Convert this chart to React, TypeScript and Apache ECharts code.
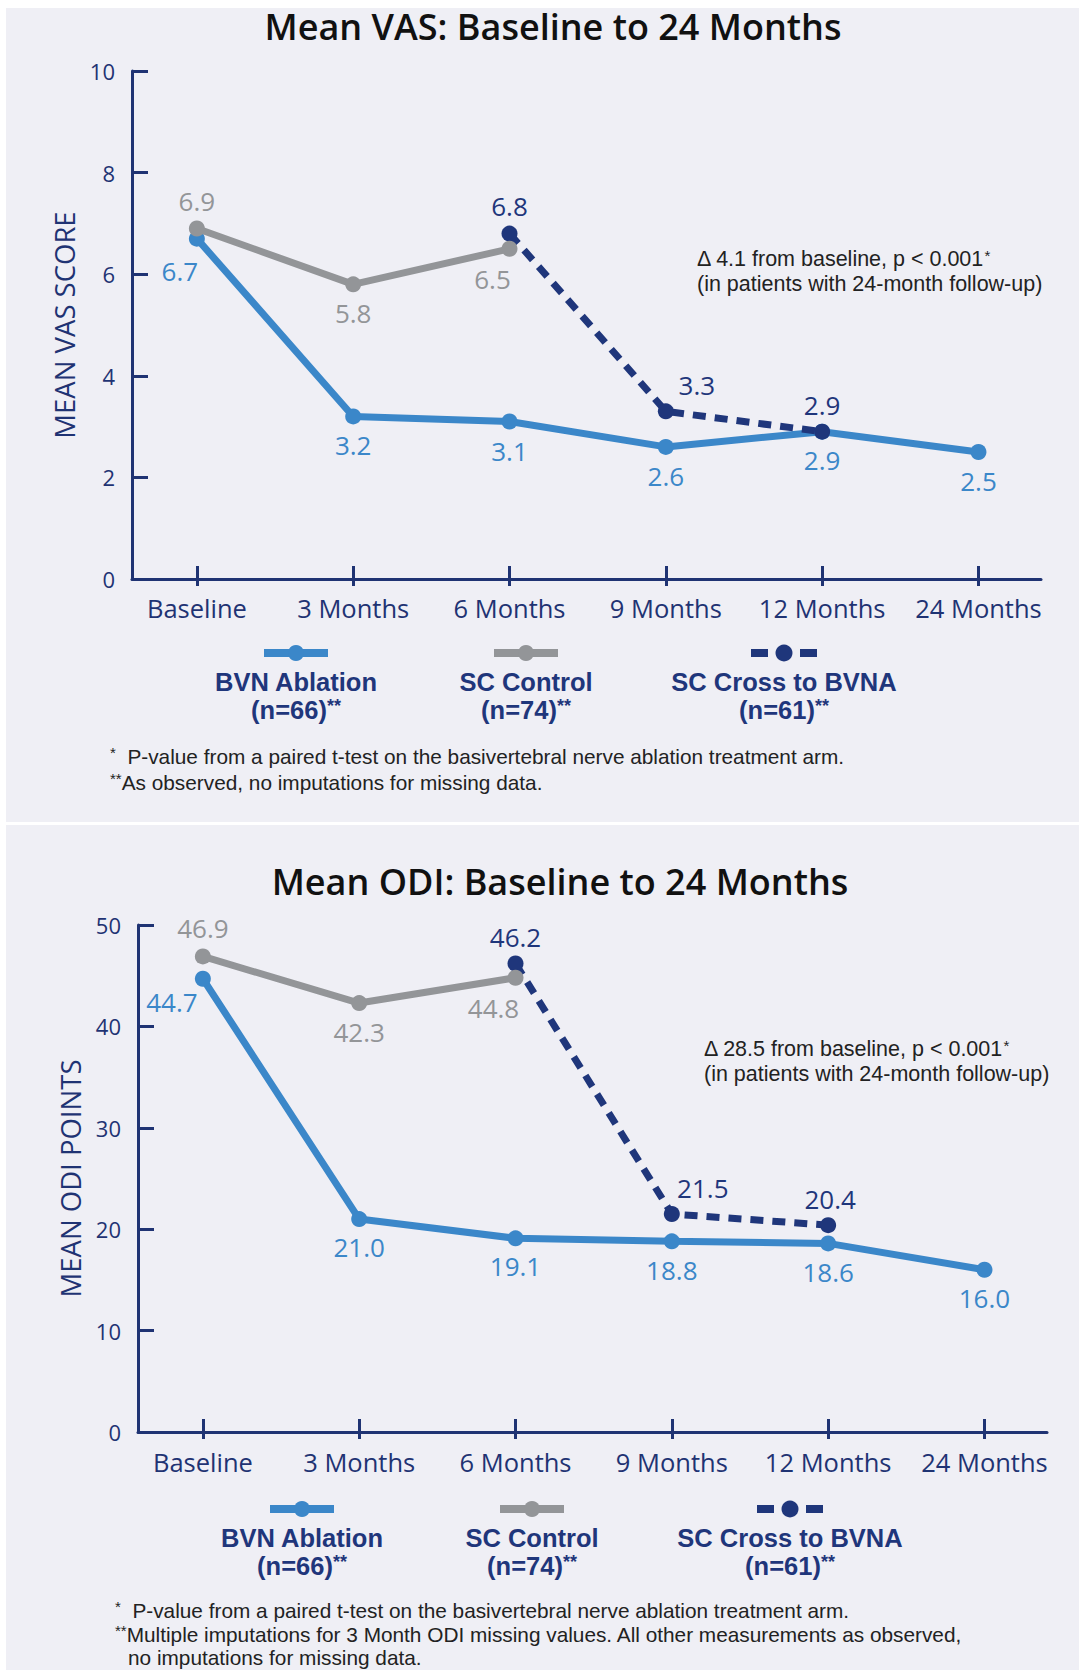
import React, { useEffect, useRef } from 'react';
import * as echarts from 'echarts';

// ---------- data ----------
const categories = ['Baseline', '3 Months', '6 Months', '9 Months', '12 Months', '24 Months'];
const categoryIdx = [0, 1, 2, 3, 4, 5];

const vasTicks = [0, 2, 4, 6, 8, 10];
const vasBvn = [6.7, 3.2, 3.1, 2.6, 2.9, 2.5];
const vasControl = [6.9, 5.8, 6.5, null, null, null];
const vasCross = [null, null, 6.8, 3.3, 2.9, null];

const odiTicks = [0, 10, 20, 30, 40, 50];
const odiBvn = [44.7, 21.0, 19.1, 18.8, 18.6, 16.0];
const odiControl = [46.9, 42.3, 44.8, null, null, null];
const odiCross = [null, null, 46.2, 21.5, 20.4, null];

const legendNames = ['BVN Ablation', 'SC Control', 'SC Cross to BVNA'];
const legendCounts = ['(n=66)', '(n=74)', '(n=61)'];

// ---------- label placement (style) ----------
const vasBvnOff = [[-17, 32], [0, 29], [0, 29], [0, 29], [0, 28], [0, 29]];
const vasCtlOff = [[0, -27], [0, 29], [-17, 30]];
const vasCrossOff = [null, null, [0, -28], [31, -26], [0, -27]];
const odiBvnOff = [[-31, 23], [0, 28], [0, 28], [0, 29], [0, 29], [0, 28]];
const odiCtlOff = [[0, -28], [0, 29], [-22, 30]];
const odiCrossOff = [null, null, [0, -27], [31, -26], [2, -26]];

// ---------- styles ----------
const FONT = '"Open Sans", "Noto Sans", sans-serif';
const LIB = '"Liberation Sans", Arial, sans-serif';
const NAVY = '#1f367b';
const AXIS = '#1f3373';
const BLUE = '#3b87c9';
const GREY = '#939598';
const TEXT = '#222222';
const PANEL = '#efeff5';

const X_MIN = -0.415;
const X_MAX = 5.4;

function buildSeries(name: string, values: (number | null)[], offs: any[], color: string, axis: number, dashed: boolean, z: number) {
  const data: any[] = [];
  values.forEach((v, i) => {
    if (v == null) return;
    data.push({ value: [categoryIdx[i], v], label: { offset: offs[i] || [0, 0] } });
  });
  return {
    name,
    type: 'line',
    xAxisIndex: axis,
    yAxisIndex: axis,
    data,
    symbol: 'circle',
    symbolSize: 16,
    z,
    lineStyle: { color, width: 7, type: dashed ? [13, 9] : 'solid', cap: 'butt' },
    itemStyle: { color },
    label: {
      show: true,
      position: 'inside',
      formatter: (p: any) => Number(p.value[1]).toFixed(1),
      color,
      fontSize: 26,
      fontFamily: FONT,
      align: 'center',
      verticalAlign: 'middle',
    },
    emphasis: { disabled: true },
  };
}

function xAxisMain(grid: number, margin: number) {
  return {
    type: 'value',
    gridIndex: grid,
    min: X_MIN,
    max: X_MAX,
    axisLine: { show: true, onZero: false, lineStyle: { color: AXIS, width: 3 } },
    axisTick: { show: true, inside: true, length: 13, lineStyle: { color: AXIS, width: 3 }, customValues: categoryIdx },
    axisLabel: {
      show: true,
      customValues: categoryIdx,
      formatter: (v: number) => categories[Math.round(v)],
      color: AXIS,
      fontSize: 25.5,
      fontFamily: FONT,
      margin,
    },
    splitLine: { show: false },
  };
}

function xAxisTicksOut(grid: number) {
  return {
    type: 'value',
    gridIndex: grid,
    min: X_MIN,
    max: X_MAX,
    axisLine: { show: false, onZero: false },
    axisTick: { show: true, inside: false, length: 7, lineStyle: { color: AXIS, width: 3 }, customValues: categoryIdx },
    axisLabel: { show: false },
    splitLine: { show: false },
  };
}

function yAxisMain(grid: number, ticks: number[], name: string) {
  return {
    type: 'value',
    gridIndex: grid,
    min: ticks[0],
    max: ticks[ticks.length - 1],
    interval: ticks[1] - ticks[0],
    name,
    nameLocation: 'middle',
    nameRotate: 90,
    nameGap: 54,
    nameTextStyle: { color: AXIS, fontSize: 27.5, fontFamily: FONT },
    axisLine: { show: true, onZero: false, lineStyle: { color: AXIS, width: 3 } },
    axisTick: { show: true, inside: true, length: 16, lineStyle: { color: AXIS, width: 3 } },
    axisLabel: { color: AXIS, fontSize: 22, fontFamily: FONT, margin: 17 },
    splitLine: { show: false },
  };
}

function yAxisHidden(grid: number) {
  return { type: 'value', gridIndex: grid, min: 0, max: 1, show: false };
}

function legendGraphics(y: number, centers: number[]) {
  const els: any[] = [];
  const colors = [BLUE, GREY, NAVY];
  centers.forEach((cx, i) => {
    if (i < 2) {
      els.push({ type: 'rect', shape: { x: cx - 32, y: y - 4, width: 64, height: 8 }, style: { fill: colors[i] } });
      els.push({ type: 'circle', shape: { cx, cy: y, r: 8 }, style: { fill: colors[i] } });
    } else {
      els.push({ type: 'rect', shape: { x: cx - 33, y: y - 4, width: 17, height: 8 }, style: { fill: colors[i] } });
      els.push({ type: 'circle', shape: { cx, cy: y, r: 8.5 }, style: { fill: colors[i] } });
      els.push({ type: 'rect', shape: { x: cx + 16, y: y - 4, width: 17, height: 8 }, style: { fill: colors[i] } });
    }
    els.push({
      type: 'text', x: cx, y: y + 43,
      style: {
        text: `{b|${legendNames[i]}}\n{a|${legendCounts[i]}}{s|**}`,
        align: 'center', verticalAlign: 'middle',
        rich: {
          b: { fill: NAVY, fontSize: 25.5, fontWeight: 'bold', fontFamily: LIB, lineHeight: 28.5 },
          a: { fill: NAVY, fontSize: 25.5, fontWeight: 'bold', fontFamily: LIB, lineHeight: 28.5 },
          s: { fill: NAVY, fontSize: 18, fontWeight: 'bold', fontFamily: LIB, padding: [0, 0, 9, 0] },
        },
      },
    });
  });
  return els;
}

function annotation(x: number, y: number, delta: string) {
  return {
    type: 'text', x, y: y + 12.5,
    style: {
      text: `{a|Δ ${delta} from baseline, p < 0.001}{s|*}\n{a|(in patients with 24-month follow-up)}`,
      align: 'left', verticalAlign: 'middle',
      rich: {
        a: { fill: TEXT, fontSize: 21.5, fontFamily: LIB, lineHeight: 25 },
        s: { fill: TEXT, fontSize: 15, fontFamily: LIB, padding: [0, 0, 8, 0] },
      },
    },
  };
}

function footnote(x: number, y: number, text: string, lh: number) {
  return {
    type: 'text', x, y,
    style: {
      text,
      align: 'left', verticalAlign: 'middle',
      rich: {
        a: { fill: TEXT, fontSize: 20.8, fontFamily: LIB, lineHeight: lh },
        s: { fill: TEXT, fontSize: 15, fontFamily: LIB, padding: [0, 0, 8, 0] },
        p: { width: 13, lineHeight: lh },
      },
    },
  };
}

export default function App() {
  const ref = useRef<HTMLDivElement>(null);
  useEffect(() => {
    if (!ref.current) return;
    const chart = echarts.init(ref.current, null, { renderer: 'svg' });
    const option: any = {
      animation: false,
      backgroundColor: '#ffffff',
      grid: [
        { left: 132, top: 71, width: 909, height: 508 },
        { left: 138, top: 925, width: 909, height: 507 },
        { left: 132, top: 71, width: 909, height: 508 },
        { left: 138, top: 925, width: 909, height: 507 },
      ],
      xAxis: [xAxisMain(0, 16), xAxisMain(1, 17), xAxisTicksOut(2), xAxisTicksOut(3)],
      yAxis: [
        yAxisMain(0, vasTicks, 'MEAN VAS SCORE'),
        yAxisMain(1, odiTicks, 'MEAN ODI POINTS'),
        yAxisHidden(2),
        yAxisHidden(3),
      ],
      series: [
        buildSeries('BVN Ablation', vasBvn, vasBvnOff, BLUE, 0, false, 2),
        buildSeries('SC Cross to BVNA', vasCross, vasCrossOff, NAVY, 0, true, 3),
        buildSeries('SC Control', vasControl, vasCtlOff, GREY, 0, false, 4),
        buildSeries('BVN Ablation', odiBvn, odiBvnOff, BLUE, 1, false, 2),
        buildSeries('SC Cross to BVNA', odiCross, odiCrossOff, NAVY, 1, true, 3),
        buildSeries('SC Control', odiControl, odiCtlOff, GREY, 1, false, 4),
      ],
      graphic: [
        { type: 'rect', z: -10, shape: { x: 6, y: 8, width: 1073, height: 814 }, style: { fill: PANEL } },
        { type: 'rect', z: -10, shape: { x: 6, y: 825, width: 1073, height: 845 }, style: { fill: PANEL } },
        {
          type: 'text', x: 553, y: 26,
          style: { text: 'Mean VAS: Baseline to 24 Months', fill: '#111111', font: `600 36px ${FONT}`, align: 'center', verticalAlign: 'middle' },
        },
        {
          type: 'text', x: 560, y: 881,
          style: { text: 'Mean ODI: Baseline to 24 Months', fill: '#111111', font: `600 36px ${FONT}`, align: 'center', verticalAlign: 'middle' },
        },
        annotation(697, 259, '4.1'),
        annotation(704, 1049, '28.5'),
        ...legendGraphics(653, [296, 526, 784]),
        ...legendGraphics(1509, [302, 532, 790]),
        footnote(110, 769,
          '{s|*}{a|  P-value from a paired t-test on the basivertebral nerve ablation treatment arm.}\n{s|**}{a|As observed, no imputations for missing data.}', 26),
        footnote(115, 1634,
          '{s|*}{a|  P-value from a paired t-test on the basivertebral nerve ablation treatment arm.}\n{s|**}{a|Multiple imputations for 3 Month ODI missing values. All other measurements as observed,}\n{p| }{a|no imputations for missing data.}', 23.5),
      ],
    };
    chart.setOption(option);
    return () => chart.dispose();
  }, []);
  return (
    <div
      ref={ref}
      style={{ position: 'absolute', left: 0, top: 0, width: 1079, height: 1670 }}
    />
  );
}
